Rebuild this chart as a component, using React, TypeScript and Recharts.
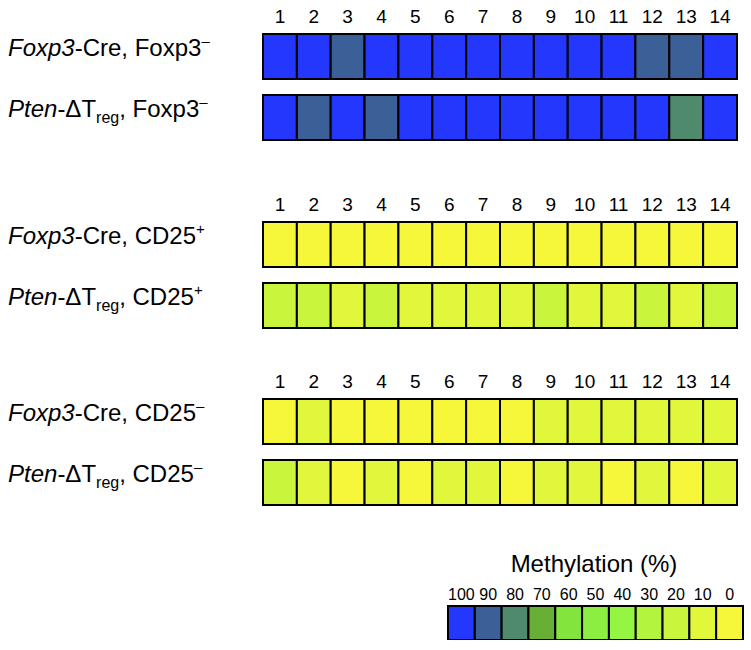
import { BarChart, Bar, XAxis, YAxis, Cell } from "recharts";

// CpG site numbers shown above each block
const sites = ["1", "2", "3", "4", "5", "6", "7", "8", "9", "10", "11", "12", "13", "14"];

// methylation (%) per CpG site
const creFoxp3Neg = [100, 100, 90, 100, 100, 100, 100, 100, 100, 100, 100, 90, 90, 100];
const ptenFoxp3Neg = [100, 90, 100, 90, 100, 100, 100, 100, 100, 100, 100, 100, 80, 100];
const creCd25Pos = [0, 0, 0, 0, 0, 0, 0, 0, 0, 0, 0, 0, 0, 0];
const ptenCd25Pos = [20, 20, 10, 20, 10, 10, 10, 10, 20, 10, 10, 20, 10, 20];
const creCd25Neg = [0, 10, 0, 0, 0, 0, 0, 0, 10, 10, 10, 10, 10, 10];
const ptenCd25Neg = [20, 10, 0, 10, 0, 10, 10, 0, 10, 10, 0, 10, 0, 10];

// colour key
const levels = [100, 90, 80, 70, 60, 50, 40, 30, 20, 10, 0];
const levelColors = [
  "#2437fd", "#3b5f97", "#4f8a6c", "#67b035", "#82e43c", "#8cee40",
  "#96f442", "#b2f43e", "#c9f53c", "#e0f73c", "#f7f73a",
];

type Part = { text: string; kind?: "i" | "sub" | "sup" };

const rowLabels: Record<string, Part[]> = {
  creFoxp3Neg: [{ text: "Foxp3", kind: "i" }, { text: "-Cre, Foxp3" }, { text: "–", kind: "sup" }],
  ptenFoxp3Neg: [{ text: "Pten", kind: "i" }, { text: "-ΔT" }, { text: "reg", kind: "sub" }, { text: ", Foxp3" }, { text: "–", kind: "sup" }],
  creCd25Pos: [{ text: "Foxp3", kind: "i" }, { text: "-Cre, CD25" }, { text: "+", kind: "sup" }],
  ptenCd25Pos: [{ text: "Pten", kind: "i" }, { text: "-ΔT" }, { text: "reg", kind: "sub" }, { text: ", CD25" }, { text: "+", kind: "sup" }],
  creCd25Neg: [{ text: "Foxp3", kind: "i" }, { text: "-Cre, CD25" }, { text: "–", kind: "sup" }],
  ptenCd25Neg: [{ text: "Pten", kind: "i" }, { text: "-ΔT" }, { text: "reg", kind: "sub" }, { text: ", CD25" }, { text: "–", kind: "sup" }],
};

const groups: [string, number[]][][] = [
  [["creFoxp3Neg", creFoxp3Neg], ["ptenFoxp3Neg", ptenFoxp3Neg]],
  [["creCd25Pos", creCd25Pos], ["ptenCd25Pos", ptenCd25Pos]],
  [["creCd25Neg", creCd25Neg], ["ptenCd25Neg", ptenCd25Neg]],
];
const groupTops = [6, 194, 371];

const FONT = "'Liberation Sans', Arial, Helvetica, sans-serif";

function colorFor(v: number) {
  const idx = levels.indexOf(Math.round(v / 10) * 10);
  return levelColors[idx < 0 ? 0 : idx];
}

function RowTick(props: any) {
  const { y, payload } = props;
  const parts = rowLabels[payload.value] || [];
  let shift = 0;
  return (
    <text x={8} y={y - 1} fontSize={24} fontFamily={FONT} fill="#000" textAnchor="start">
      {parts.map((p, i) => {
        let target = 0;
        let size = 24;
        if (p.kind === "sub") { target = 6; size = 16; }
        if (p.kind === "sup") { target = -10; size = 15; }
        const dy = target - shift;
        shift = target;
        return (
          <tspan key={i} dy={dy} fontSize={size} fontStyle={p.kind === "i" ? "italic" : "normal"}>
            {p.text}
          </tspan>
        );
      })}
    </text>
  );
}

function SiteTick(props: any) {
  const { x, y, payload } = props;
  return (
    <text x={x} y={y - 3} textAnchor="middle" fontSize={19} fontFamily={FONT} fill="#000">
      {sites[Math.floor(payload.value)]}
    </text>
  );
}

function LevelTick(props: any) {
  const { x, y, payload } = props;
  return (
    <text x={x} y={y - 6} textAnchor="middle" fontSize={16} fontFamily={FONT} fill="#000">
      {levels[Math.floor(payload.value)]}
    </text>
  );
}

function GroupChart({ rows, top }: { rows: [string, number[]][]; top: number }) {
  const data = rows.map(([key]) => {
    const d: Record<string, any> = { key };
    sites.forEach((_, i) => (d["s" + i] = 1));
    return d;
  });
  return (
    <div style={{ position: "absolute", left: 0, top }}>
      <BarChart
        width={751}
        height={142}
        data={data}
        layout="vertical"
        barCategoryGap={8}
        margin={{ top: 0, right: 14, bottom: 0, left: 0 }}
      >
        <XAxis
          type="number"
          orientation="top"
          domain={[0, sites.length]}
          ticks={sites.map((_, i) => i + 0.5)}
          interval={0}
          height={20}
          tickSize={0}
          tickMargin={0}
          axisLine={false}
          tickLine={false}
          tick={SiteTick}
        />
        <YAxis
          type="category"
          dataKey="key"
          width={263}
          axisLine={false}
          tickLine={false}
          tick={RowTick}
        />
        {sites.map((_, i) => (
          <Bar key={i} dataKey={"s" + i} stackId="a" stroke="#000" strokeWidth={2} isAnimationActive={false}>
            {rows.map(([key, vals]) => (
              <Cell key={key} fill={colorFor(vals[i])} />
            ))}
          </Bar>
        ))}
      </BarChart>
    </div>
  );
}

function LegendChart() {
  const d: Record<string, any> = { key: "legend" };
  levels.forEach((_, i) => (d["l" + i] = 1));
  return (
    <div style={{ position: "absolute", left: 0, top: 582 }}>
      <BarChart
        width={751}
        height={58}
        data={[d]}
        layout="vertical"
        barCategoryGap={0}
        margin={{ top: 0, right: 8, bottom: 0, left: 448 }}
      >
        <XAxis
          type="number"
          orientation="top"
          domain={[0, levels.length]}
          ticks={levels.map((_, i) => i + 0.5)}
          interval={0}
          height={24}
          tickSize={0}
          tickMargin={0}
          axisLine={false}
          tickLine={false}
          tick={LevelTick}
        />
        <YAxis type="category" dataKey="key" hide />
        {levels.map((_, i) => (
          <Bar key={i} dataKey={"l" + i} stackId="a" fill={levelColors[i]} stroke="#000" strokeWidth={2} isAnimationActive={false} />
        ))}
      </BarChart>
    </div>
  );
}

export default function App() {
  return (
    <div style={{ position: "absolute", left: 0, top: 0, width: 751, height: 650, background: "#fff" }}>
      {groups.map((rows, g) => (
        <GroupChart key={g} rows={rows} top={groupTops[g]} />
      ))}
      <svg width={751} height={40} style={{ position: "absolute", left: 0, top: 545 }}>
        <text x={594} y={27} textAnchor="middle" fontSize={24} fontFamily={FONT} fill="#000">
          Methylation (%)
        </text>
      </svg>
      <LegendChart />
    </div>
  );
}
